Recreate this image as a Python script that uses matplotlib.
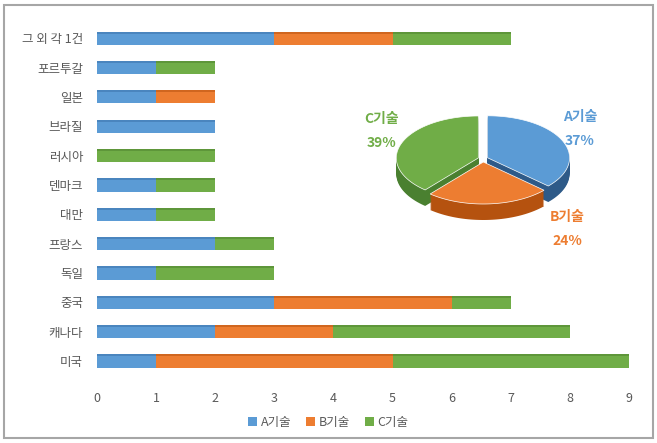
import matplotlib
matplotlib.use('Agg')

import numpy as np
import matplotlib.pyplot as plt
from matplotlib.patches import Polygon, Rectangle

plt.rcParams['font.family'] = ['Noto Sans CJK KR', 'DejaVu Sans']

# data (bottom to top)
countries = ['미국', '캐나다', '중국', '독일', '프랑스', '대만', '덴마크',
             '러시아', '브라질', '일본', '포르투갈', '그 외 각 1건']
tech_a = [1, 2, 3, 1, 2, 1, 1, 0, 2, 1, 1, 3]
tech_b = [4, 2, 3, 0, 0, 0, 0, 0, 0, 1, 0, 2]
tech_c = [4, 4, 1, 2, 1, 1, 1, 2, 0, 0, 1, 2]
series_names = ['A기술', 'B기술', 'C기술']

colors = ['#5B9BD5', '#ED7D31', '#70AD47']
tops = ['#4A85BE', '#D0661F', '#5E963A']
sides = ['#2E5A88', '#B5520F', '#4A8030']

W, H = 657, 443
fig = plt.figure(figsize=(W / 100, H / 100), dpi=100)

ax = fig.add_axes([0.1476, 0.152, 0.8098, 0.795])
y = np.arange(len(countries))
bh = 0.45
left = np.zeros(len(countries))
for vals, name, c, tc in zip([tech_a, tech_b, tech_c], series_names, colors, tops):
    vals = np.array(vals, dtype=float)
    ax.barh(y, vals, height=bh, left=left, color=c, label=name, zorder=2)
    # darker strip on top edge for a bit of depth
    ax.barh(y + bh / 2 - 0.035, vals, height=0.07, left=left, color=tc, zorder=3)
    left = left + vals

ax.set_xlim(0, 9)
ax.set_ylim(-0.5, len(countries) - 0.5)
ax.set_yticks(y)
ax.set_yticklabels(countries, fontsize=9, color='#595959')
ax.set_xticks(range(10))
ax.tick_params(axis='x', labelsize=9, labelcolor='#595959', length=0, pad=12)
ax.tick_params(axis='y', length=0, pad=10)
for s in ax.spines.values():
    s.set_visible(False)

fig.legend(loc='center', bbox_to_anchor=(0.5, 0.047), ncol=3, frameon=False,
           fontsize=9, handlelength=0.7, handleheight=0.7, handletextpad=0.3,
           columnspacing=1.2, labelcolor='#595959')

# 3D-looking pie in pixel coordinates
pa = fig.add_axes([0, 0, 1, 1], facecolor='none')
pa.set_xlim(0, W)
pa.set_ylim(H, 0)
pa.axis('off')

totals = [sum(tech_a), sum(tech_b), sum(tech_c)]
frac = np.array(totals) / sum(totals)
cx, cy, rx, ry, depth, expl = 483, 159, 82, 42, 16, 5
start = 90.0
wedges = []
for i, f in enumerate(frac):
    t1 = start
    t2 = start - f * 360
    start = t2
    mid = np.radians((t1 + t2) / 2)
    ox, oy = cx + expl * np.cos(mid), cy - expl * 0.6 * np.sin(mid)
    t = np.radians(np.linspace(t1, t2, 80))
    xs = np.concatenate([[ox], ox + rx * np.cos(t)])
    ys = np.concatenate([[oy], oy - ry * np.sin(t)])
    wedges.append((np.sin(mid), i, xs, ys, mid))

for _, i, xs, ys, mid in sorted(wedges, key=lambda w: -w[0]):
    for d in np.linspace(depth, 1, 16):
        pa.add_patch(Polygon(np.column_stack([xs, ys + d]), closed=True,
                             facecolor=sides[i], edgecolor='none'))
    pa.add_patch(Polygon(np.column_stack([xs, ys]), closed=True,
                         facecolor=colors[i], edgecolor='white', lw=0.5))

label_pos = [(580, 117, 141), (567, 217, 241), (382, 119, 143)]
for i, (lx, ly1, ly2) in enumerate(label_pos):
    pa.text(lx, ly1, series_names[i], color=colors[i], fontsize=10,
            fontweight='bold', ha='center', va='center', zorder=5)
    pa.text(lx, ly2, '{:.0f}%'.format(frac[i] * 100), color=colors[i],
            fontsize=10, fontweight='bold', ha='center', va='center', zorder=5)

# outer frame
pa.add_patch(Rectangle((4, 5), 649, 433, fill=False, edgecolor='#A6A6A6', lw=1.5))

fig.savefig('out.png', dpi=100)
